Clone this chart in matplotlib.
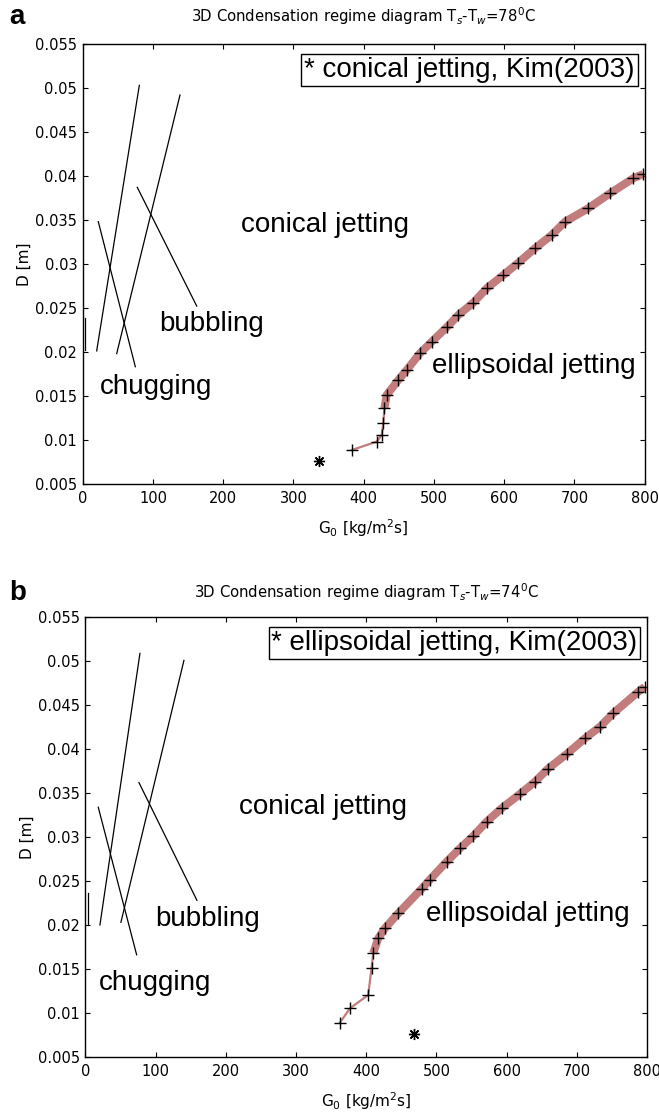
import numpy as np
import matplotlib
matplotlib.use("Agg")
import matplotlib.pyplot as plt

# ---- data ----
# panel a: Ts-Tw = 78 C, panel b: Ts-Tw = 74 C
titles = ["3D Condensation regime diagram T$_s$-T$_w$=78$^0$C",
          "3D Condensation regime diagram T$_s$-T$_w$=74$^0$C"]
panel_tags = ["a", "b"]
boxed_notes = ["* conical jetting, Kim(2003)", "* ellipsoidal jetting, Kim(2003)"]

# regime boundary segments (G0 pairs, D pairs)
lines_a = [([19.9, 80.6], [0.0201, 0.0503]),
           ([48.4, 138.5], [0.0198, 0.0492]),
           ([22.2, 74.9], [0.0348, 0.0183]),
           ([77.7, 162.3], [0.0387, 0.0252]),
           ([3.7, 3.7], [0.0238, 0.0202])]
lines_b = [([20.6, 77.6], [0.0200, 0.0509]),
           ([50.5, 140.3], [0.0203, 0.0501]),
           ([18.2, 72.9], [0.0334, 0.0166]),
           ([76.2, 158.8], [0.0362, 0.0228]),
           ([3.5, 3.5], [0.0236, 0.0200])]

# conical / ellipsoidal jetting boundary
G_a = [383.0, 418.5, 425.6, 427.9, 429.5, 432.7, 449.3, 461.2, 480.1, 496.8,
       519.0, 534.7, 556.0, 575.1, 598.7, 620.1, 643.8, 667.6, 686.6, 719.7,
       750.6, 783.8, 798.0]
D_a = [0.00883, 0.00978, 0.01054, 0.01187, 0.01357, 0.01509, 0.01679, 0.01793,
       0.01983, 0.02115, 0.02285, 0.02418, 0.02558, 0.02722, 0.02873, 0.03013,
       0.03177, 0.03328, 0.03479, 0.03632, 0.03802, 0.03973, 0.04022]
G_b = [362.5, 376.8, 402.8, 407.6, 410.0, 417.1, 426.6, 445.6, 478.8, 490.6,
       514.5, 533.5, 552.4, 571.4, 592.8, 618.9, 640.3, 659.3, 685.5, 711.6,
       733.0, 751.9, 787.5, 797.0]
D_b = [0.00887, 0.01051, 0.01202, 0.01506, 0.01677, 0.01847, 0.01961, 0.02132,
       0.02410, 0.02515, 0.02719, 0.02871, 0.03011, 0.03174, 0.03327, 0.03489,
       0.03629, 0.03780, 0.03944, 0.04123, 0.04255, 0.04408, 0.04653, 0.04710]
thin_end = [4, 4]   # index where the thin part of the boundary ends

# Kim (2003) experimental point
kim_G = [336.8, 468.0]
kim_D = [0.00762, 0.00755]

# region labels: (text, G0, D)
labels_a = [("conical jetting", 225, 0.0336), ("bubbling", 108.6, 0.0224),
            ("chugging", 24.6, 0.0152), ("ellipsoidal jetting", 496.8, 0.0176)]
labels_b = [("conical jetting", 218.7, 0.0326), ("bubbling", 99, 0.0199),
            ("chugging", 19.2, 0.0126), ("ellipsoidal jetting", 485, 0.0204)]
note_pos = [(550.6, 0.05204), (525.6, 0.05208)]

band_color = "#c27c7c"
big_font = ["Liberation Sans", "DejaVu Sans"]

fig = plt.figure(figsize=(6.59, 11.14), dpi=100)
ax_a = fig.add_axes([0.1255, 0.5658, 0.8528, 0.3947])
ax_b = fig.add_axes([0.1297, 0.0514, 0.8520, 0.3944])

panels = [(ax_a, lines_a, G_a, D_a, labels_a), (ax_b, lines_b, G_b, D_b, labels_b)]
title_y = [1 - 16 / 1114, 1 - 592 / 1114]
tag_xy = [(17 / 659, 1 - 17 / 1114), (18 / 659, 1 - 593 / 1114)]

for i, (ax, segs, G, D, labs) in enumerate(panels):
    for gx, dy in segs:
        ax.plot(gx, dy, color="black", lw=0.9)
    k = thin_end[i]
    ax.plot(G[:k + 1], D[:k + 1], color=band_color, lw=1.6, zorder=3)
    ax.plot(G[k:], D[k:], color=band_color, lw=5.8, solid_capstyle="butt", zorder=3)
    ax.plot(G, D, ls="none", marker="+", ms=9, mew=1.0, color="black", zorder=4)
    ax.plot(kim_G[i], kim_D[i], ls="none", marker=(8, 2, 0), ms=8, mew=1.0,
            color="black", zorder=4)
    for txt, gx, dy in labs:
        ax.text(gx, dy, txt, fontsize=20, family=big_font, ha="left", va="baseline")
    ax.text(note_pos[i][0], note_pos[i][1], boxed_notes[i], fontsize=20,
            family=big_font, ha="center", va="center",
            bbox=dict(boxstyle="square,pad=0.1", fc="white", ec="black", lw=1.0))

    ax.set_xlim(0, 800)
    ax.set_ylim(0.005, 0.055)
    ax.set_xticks(np.arange(0, 801, 100))
    ax.set_yticks(np.arange(0.005, 0.0551, 0.005))
    ax.set_yticklabels(["%g" % round(v, 3) for v in np.arange(0.005, 0.0551, 0.005)])
    ax.tick_params(direction="in", top=True, right=True, length=3.6, width=0.8,
                   labelsize=10.5)
    ax.tick_params(axis="x", pad=5)
    ax.tick_params(axis="y", pad=4)
    for sp in ax.spines.values():
        sp.set_linewidth(1.0)
    ax.set_xlabel("G$_0$ [kg/m$^2$s]", fontsize=11, va="center")
    ax.xaxis.set_label_coords(0.5, -0.10)
    ax.set_ylabel("D [m]", fontsize=11, va="center")
    ax.yaxis.set_label_coords(-0.104, 0.5)

    pos = ax.get_position()
    fig.text(pos.x0 + pos.width / 2, title_y[i], titles[i], fontsize=10.7,
             ha="center", va="center")
    fig.text(tag_xy[i][0], tag_xy[i][1], panel_tags[i], fontsize=20,
             fontweight="bold", family=big_font, ha="center", va="center")

fig.savefig("out.png", dpi=100)
